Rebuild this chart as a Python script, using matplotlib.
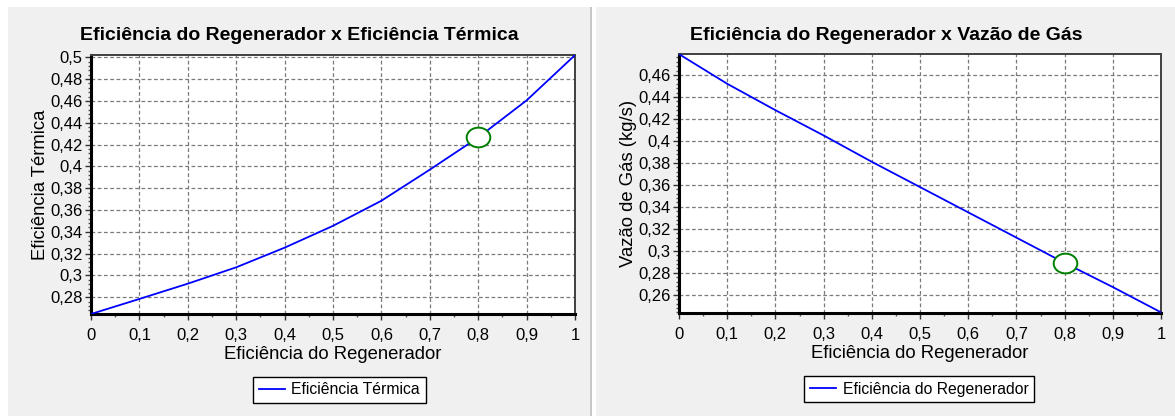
import matplotlib
matplotlib.use("Agg")
import matplotlib.pyplot as plt
from matplotlib.patches import Rectangle
from matplotlib.path import Path
from matplotlib.transforms import Affine2D
from matplotlib.ticker import MultipleLocator, AutoMinorLocator, FuncFormatter

plt.rcParams['font.family'] = ['Liberation Sans', 'DejaVu Sans']

# dados
efic_regen = [0.0, 0.1, 0.2, 0.3, 0.4, 0.5, 0.6, 0.7, 0.8, 0.9, 1.0]
efic_termica = [0.2647, 0.2785, 0.2925, 0.3075, 0.3255, 0.3455, 0.3685, 0.397, 0.4265, 0.4605, 0.502]
vazao_gas = [0.479, 0.452, 0.428, 0.405, 0.381, 0.358, 0.335, 0.312, 0.289, 0.267, 0.244]

# ponto de operação marcado
ponto_x = [0.8]
ponto_termica = [0.4265]
ponto_vazao = [0.289]

W, H = 1175, 416
fig = plt.figure(figsize=(W / 100, H / 100), dpi=100, facecolor='white')

def px_rect(x0, y0, x1, y1, color):
    # retângulo em pixels (origem no topo)
    fig.patches.append(Rectangle((x0 / W, 1 - y1 / H), (x1 - x0) / W, (y1 - y0) / H,
                                 transform=fig.transFigure, facecolor=color,
                                 edgecolor='none', zorder=-10))

px_rect(8, 7, 590, 416, '#f0f0f0')
px_rect(590, 7, 592, 416, '#c8c8c8')
px_rect(596, 7, 1175, 416, '#f0f0f0')

ellipse = Path.unit_circle().transformed(Affine2D().scale(1.2, 1.0))
fmt = FuncFormatter(lambda v, p: f"{v:g}".replace('.', ','))


def style_axes(ax, ylim):
    ax.set_xlim(0, 1)
    ax.set_ylim(*ylim)
    ax.xaxis.set_major_locator(MultipleLocator(0.1))
    ax.xaxis.set_minor_locator(AutoMinorLocator(2))
    ax.yaxis.set_major_locator(MultipleLocator(0.02))
    ax.yaxis.set_minor_locator(AutoMinorLocator(5))
    ax.xaxis.set_major_formatter(fmt)
    ax.yaxis.set_major_formatter(fmt)
    ax.tick_params(which='major', length=4, width=1, color='#333333', labelsize=12, pad=2)
    ax.tick_params(which='minor', length=2.5, width=1, color='#555555')
    ax.tick_params(axis='x', which='major', pad=6)
    ax.grid(True, which='major', color='#7a7a7a', linestyle=(0, (3, 2)), linewidth=0.9)
    for s in ['left', 'bottom']:
        ax.spines[s].set_linewidth(2.2)
        ax.spines[s].set_color('black')
    for s in ['top', 'right']:
        ax.spines[s].set_linewidth(1.4)
        ax.spines[s].set_color('#404040')
    ax.set_facecolor('white')
    ax.xaxis.set_label_coords(0.5, -0.125)
    ax.yaxis.set_label_coords(-0.087, 0.5)


# painel esquerdo
ax1 = fig.add_axes([91 / W, 1 - 314 / H, 484 / W, 259 / H])
ax1.plot(efic_regen, efic_termica, color='#0000ff', lw=1.3, label='Eficiência Térmica', zorder=3)
ax1.plot(ponto_x, ponto_termica, linestyle='none', marker=ellipse, markersize=17,
         markerfacecolor='white', markeredgecolor='#008000', markeredgewidth=1.4, zorder=4)
style_axes(ax1, (0.2647, 0.5021))
ax1.set_xlabel('Eficiência do Regenerador', fontsize=13.3)
ax1.set_ylabel('Eficiência Térmica', fontsize=13.3)
fig.text(299 / W, 1 - 36 / H, 'Eficiência do Regenerador x Eficiência Térmica',
         ha='center', va='center', fontsize=14, fontweight='bold')
leg1 = ax1.legend(loc='center', bbox_to_anchor=(0.513, -0.293), fontsize=11.3,
                  fancybox=False, edgecolor='black', framealpha=1, handlelength=1.7,
                  handletextpad=0.4, borderpad=0.35)
leg1.get_frame().set_linewidth(1.0)

# painel direito
ax2 = fig.add_axes([679 / W, 1 - 313 / H, 482 / W, 259 / H])
ax2.plot(efic_regen, vazao_gas, color='#0000ff', lw=1.3, label='Eficiência do Regenerador', zorder=3)
ax2.plot(ponto_x, ponto_vazao, linestyle='none', marker=ellipse, markersize=17,
         markerfacecolor='white', markeredgecolor='#008000', markeredgewidth=1.4, zorder=4)
style_axes(ax2, (0.2434, 0.4791))
ax2.set_xlabel('Eficiência do Regenerador', fontsize=13.3)
ax2.set_ylabel('Vazão de Gás (kg/s)', fontsize=13.3)
fig.text(886 / W, 1 - 36 / H, 'Eficiência do Regenerador x Vazão de Gás',
         ha='center', va='center', fontsize=14, fontweight='bold')
leg2 = ax2.legend(loc='center', bbox_to_anchor=(0.498, -0.295), fontsize=11.3,
                  fancybox=False, edgecolor='black', framealpha=1, handlelength=1.7,
                  handletextpad=0.4, borderpad=0.35)
leg2.get_frame().set_linewidth(1.0)

fig.savefig('out.png', dpi=100, facecolor=fig.get_facecolor())
